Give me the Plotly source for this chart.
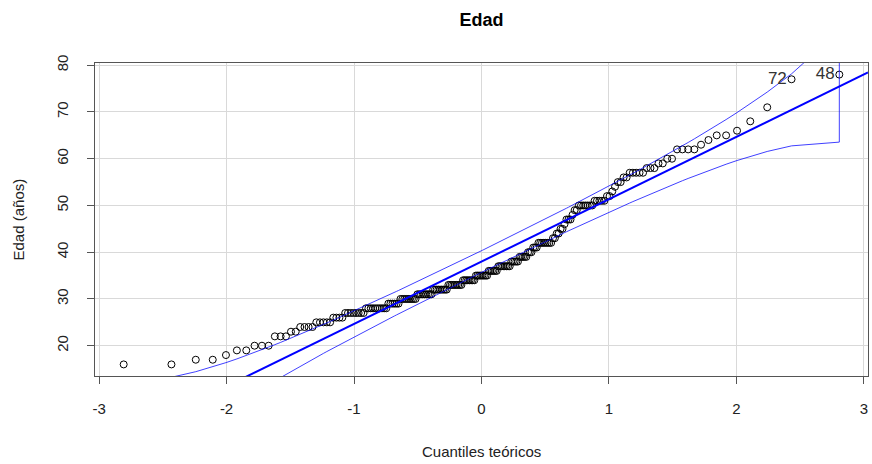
import numpy as np
from statistics import NormalDist
import plotly.graph_objects as go

# Edades observadas (años) y su frecuencia
edad_valores = [16, 17, 18, 19, 20, 22, 23, 24, 25, 26, 27, 28, 29, 30, 31, 32, 33, 34, 35, 36,
                37, 38, 39, 40, 41, 42, 43, 44, 45, 46, 47, 48, 49, 50, 51, 52, 53, 54, 55, 56,
                57, 58, 59, 60, 62, 63, 64, 65, 66, 68, 71, 77, 78]
frecuencias = [2, 2, 1, 2, 3, 3, 2, 4, 5, 4, 8, 10, 6, 9, 9, 9, 9, 8, 8, 6,
               8, 5, 5, 3, 3, 8, 2, 2, 2, 1, 3, 1, 2, 7, 5, 2, 1, 1, 2, 2,
               5, 3, 2, 2, 4, 1, 1, 2, 1, 1, 1, 1, 1]
etiquetas_id = ["72", "48"]  # ids of the two largest observations
x_ticks = [-3, -2, -1, 0, 1, 2, 3]
y_ticks = [20, 30, 40, 50, 60, 70, 80]

edad = np.sort(np.repeat(edad_valores, frecuencias)).astype(float)
n = len(edad)
nd = NormalDist()

# theoretical quantiles (ppoints)
a_pp = 3 / 8 if n <= 10 else 0.5
P = (np.arange(1, n + 1) - a_pp) / (n + 1 - 2 * a_pp)
z = np.array([nd.inv_cdf(p) for p in P])

# quartile line (car::qqPlot)
Qx = np.quantile(edad, [0.25, 0.75])
Qz = np.array([nd.inv_cdf(0.25), nd.inv_cdf(0.75)])
b = (Qx[1] - Qx[0]) / (Qz[1] - Qz[0])
a = Qx[0] - b * Qz[0]

# 95% pointwise envelope
zz = nd.inv_cdf(0.975)
dens = np.array([nd.pdf(v) for v in z])
SE = (b / dens) * np.sqrt(P * (1 - P) / n)
fit = a + b * z
upper = fit + zz * SE
lower = fit - zz * SE

xr = [-3.032, 3.032]
yr = [13.52, 80.48]

font_fam = "Liberation Sans, Arial, sans-serif"
fig = go.Figure()

fig.add_trace(go.Scatter(
    x=z, y=edad, mode="markers",
    marker=dict(symbol="circle-open", size=7, color="black", line=dict(width=1, color="black")),
    hoverinfo="x+y", showlegend=False))

fig.add_trace(go.Scatter(
    x=xr, y=[a + b * xr[0], a + b * xr[1]], mode="lines",
    line=dict(color="#0000FF", width=2), showlegend=False))

fig.add_trace(go.Scatter(
    x=list(z) + list(z[::-1]) + [z[0]],
    y=list(upper) + list(lower[::-1]) + [upper[0]],
    mode="lines", line=dict(color="rgba(0,0,255,0.75)", width=1), showlegend=False))

fig.add_trace(go.Scatter(
    x=z[-2:], y=edad[-2:], mode="text", text=[t + "\u00a0" for t in etiquetas_id],
    textposition="middle left",
    textfont=dict(size=17, color="#333333", family=font_fam), showlegend=False, cliponaxis=False))

axis_common = dict(showline=True, mirror=True, linecolor="#555555", linewidth=1,
                   ticks="outside", ticklen=7, tickcolor="#555555", tickwidth=1,
                   showgrid=True, gridcolor="#d9d9d9", gridwidth=1, zeroline=False,
                   automargin=False,
                   tickfont=dict(size=15, color="#222222", family=font_fam))

fig.update_layout(
    width=872, height=464,
    margin=dict(l=95, r=4, t=63, b=88, autoexpand=False),
    paper_bgcolor="white", plot_bgcolor="white",
    font=dict(family=font_fam, color="#222222"),
    title=dict(text="<b>Edad</b>", x=(95 + 868) / 2 / 872, xanchor="center",
               y=1 - 20 / 464, yanchor="middle", font=dict(size=18, color="black", family=font_fam)),
    xaxis=dict(range=xr, tickvals=x_ticks, ticktext=[str(t) for t in x_ticks],
               ticklabelstandoff=12, **axis_common),
    yaxis=dict(range=yr, tickvals=y_ticks, ticktext=[str(t) for t in y_ticks],
               tickangle=-90, ticklabelstandoff=13, **axis_common),
    annotations=[
        dict(text="Cuantiles teóricos", xref="paper", yref="paper", x=0.5, y=-(451 - 376) / 313,
             xanchor="center", yanchor="middle", showarrow=False,
             font=dict(size=15, color="#222222", family=font_fam)),
        dict(text="Edad (años)", xref="paper", yref="paper", x=-(95 - 18) / 773, y=0.5,
             xanchor="center", yanchor="middle", showarrow=False, textangle=-90,
             font=dict(size=15, color="#222222", family=font_fam)),
    ],
)

fig.write_html("out.html", config={"displayModeBar": False},
               post_script="document.body.style.margin='0';document.body.style.overflow='hidden';")
